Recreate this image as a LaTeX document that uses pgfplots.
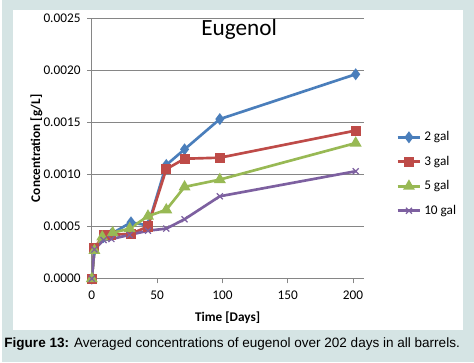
\documentclass[border=0pt]{standalone}
\usepackage{pgfplots}
\pgfplotsset{compat=1.18}
\usepackage{fontspec}
\setmainfont{Carlito}
\newfontfamily\arialf{Liberation Sans}
\definecolor{bgc}{HTML}{D5E4E4}
\definecolor{c2}{HTML}{4A7EBB}
\definecolor{c3}{HTML}{BE4B48}
\definecolor{c5}{HTML}{98B954}
\definecolor{c10}{HTML}{7D60A0}
\definecolor{gridc}{HTML}{868686}
\begin{document}
\begin{tikzpicture}
\fill[bgc] (0pt,0pt) rectangle (355.5pt,-273pt);
\fill[white] (8.25pt,-7.5pt) rectangle (347.25pt,-249pt);
\begin{axis}[
  at={(67.5pt,-210pt)}, anchor=origin,
  scale only axis, width=204.75pt, height=196.5pt,
  xmin=0, xmax=208, ymin=0, ymax=0.0025,
  axis x line*=bottom, axis y line*=left,
  axis line style={gridc, line width=0.6pt},
  xtick={0,50,100,150,200},
  ytick={0,0.0005,0.001,0.0015,0.002,0.0025},
  ymajorgrids, grid style={gridc, line width=0.6pt},
  tick style={gridc, line width=0.6pt},
  tick align=outside, major tick length=3.5pt,
  scaled y ticks=false,
  /pgf/number format/assume math mode=true,
  yticklabel style={xshift=-1.5pt, /pgf/number format/.cd, fixed, fixed zerofill, precision=4},
  xticklabel style={yshift=-2pt},
  ticklabel style={font=\fontsize{10}{12}\selectfont},
  xlabel={\textbf{Time [Days]}},
  ylabel={\textbf{Concentration [g/L]}},
  xlabel style={yshift=-2.5pt},
  ylabel style={yshift=-6pt},
  label style={font=\fontsize{10}{12}\selectfont},
  legend style={at={(rel axis cs:1.105,0.585)}, anchor=north west, draw=none, fill=none,
    font=\fontsize{10}{12}\selectfont, row sep=6pt},
  legend cell align=left,
  every axis plot/.append style={line width=2pt},
]
\addplot[c2, mark=diamond*, mark size=2.9pt, mark options={solid}] coordinates {
(0,0) (2,0.00028) (9,0.00040) (15,0.00043) (30,0.00054) (43,0.00051) (57,0.00109) (71,0.00124) (98,0.00153) (202,0.00196)};
\addlegendentry{2 gal}
\addplot[c3, mark=square*, mark size=2.8pt] coordinates {
(0,0) (2,0.00029) (9,0.00042) (15,0.00042) (30,0.00043) (43,0.00050) (57,0.00105) (71,0.00115) (98,0.00116) (202,0.00142)};
\addlegendentry{3 gal}
\addplot[c5, mark=triangle*, mark size=3.2pt] coordinates {
(0,0) (2,0.00027) (8,0.00040) (16,0.00044) (29,0.00048) (43,0.00060) (57,0.00066) (71,0.00088) (98,0.00095) (202,0.00130)};
\addlegendentry{5 gal}
\addplot[c10, mark=x, mark size=3.2pt, mark options={line width=0.9pt}] coordinates {
(0,0) (2,0.00028) (9,0.00037) (15,0.00038) (29,0.00042) (43,0.00046) (57,0.00048) (71,0.00057) (98,0.00079) (202,0.00103)};
\addlegendentry{10 gal}
\end{axis}
\node[font=\fontsize{17.5}{20}\selectfont] at (178.5pt,-22.5pt) {Eugenol};
\node[font=\arialf\fontsize{10.2}{12}\selectfont] at (173.25pt,-259pt) {\textbf{Figure 13:} Averaged concentrations of eugenol over 202 days in all barrels.};
\end{tikzpicture}
\end{document}
